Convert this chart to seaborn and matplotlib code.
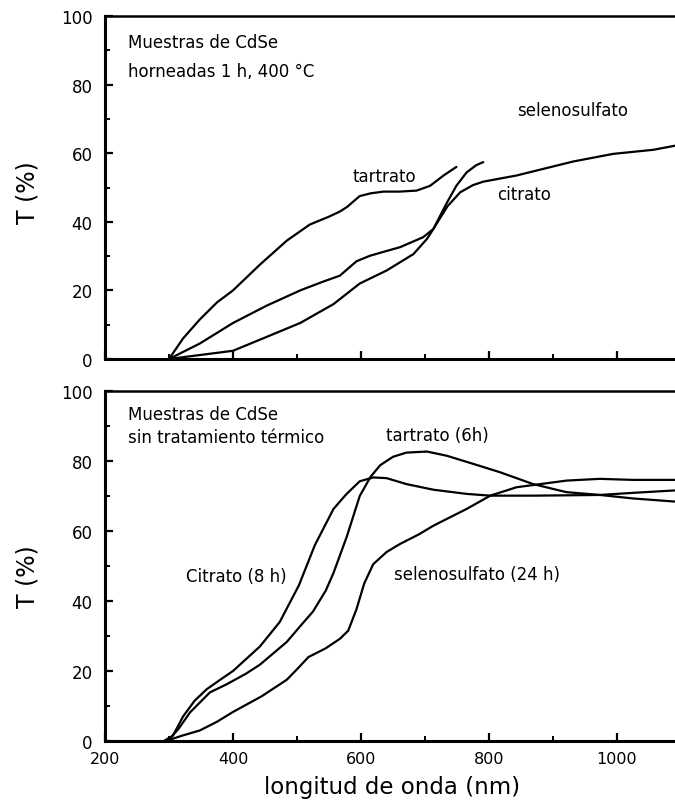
import matplotlib
matplotlib.use("Agg")
import matplotlib.pyplot as plt
import seaborn as sns
import pandas as pd
from matplotlib.ticker import FixedLocator, MultipleLocator

# ---------------- data ----------------
# Top panel: CdSe samples baked 1 h at 400 C
top_tartrato_nm = [300, 322, 348, 375, 400, 442, 484, 520, 550, 567, 578, 598, 615, 635, 660, 687, 708, 729, 749]
top_tartrato_T = [0, 6, 11.5, 16.5, 20, 27.5, 34.5, 39.2, 41.5, 43, 44.3, 47.5, 48.3, 48.8, 48.8, 49.1, 50.5, 53.5, 56]

top_selenosulfato_nm = [300, 348, 400, 452, 505, 540, 567, 593, 614, 640, 661, 697, 713, 735, 755, 775, 791,
                        843, 895, 932, 994, 1057, 1091]
top_selenosulfato_T = [0, 4.5, 10.5, 15.5, 20, 22.5, 24.3, 28.5, 30.1, 31.5, 32.6, 35.5, 37.9, 44.5, 48.6, 50.7,
                       51.7, 53.5, 55.9, 57.6, 59.8, 61.0, 62.2]

top_citrato_nm = [300, 350, 400, 452, 505, 557, 598, 640, 682, 703, 713, 734, 749, 765, 780, 791]
top_citrato_T = [0, 1.2, 2.4, 6.4, 10.5, 16, 22, 25.8, 30.6, 35, 37.9, 45.5, 50.5, 54.4, 56.5, 57.4]

# Bottom panel: CdSe samples without thermal treatment
bot_citrato_nm = [292, 306, 322, 340, 359, 380, 400, 442, 473, 503, 528, 557, 577, 598, 619, 640, 671, 713,
                  765, 802, 869, 925, 973, 1025, 1091]
bot_citrato_T = [0, 1.5, 7, 11.5, 14.8, 17.5, 20, 27, 34, 44.5, 56, 66.3, 70.5, 74.2, 75.3, 75.1, 73.4, 71.8,
                 70.6, 70.1, 70.1, 70.2, 70.3, 70.9, 71.6]

bot_tartrato_nm = [298, 315, 333, 364, 390, 420, 442, 484, 505, 525, 545, 557, 578, 598, 615, 630, 650, 671,
                   703, 734, 775, 817, 869, 921, 973, 1025, 1091]
bot_tartrato_T = [0, 3.5, 8.2, 13.9, 16.2, 19.2, 21.8, 28.3, 32.8, 37, 43, 48, 58.5, 70, 75.5, 78.8, 81.2, 82.4,
                  82.7, 81.5, 79.2, 76.8, 73.4, 71.1, 70.3, 69.3, 68.4]

bot_selenosulfato_nm = [295, 320, 348, 375, 400, 445, 484, 500, 518, 545, 567, 580, 593, 605, 619, 640, 661, 690,
                        713, 740, 765, 802, 843, 880, 921, 973, 1025, 1091]
bot_selenosulfato_T = [0, 1.5, 3, 5.5, 8.3, 12.8, 17.5, 20.5, 24, 26.5, 29.2, 31.5, 37.7, 45, 50.5, 54, 56.3, 59,
                       61.5, 64, 66.3, 70.1, 72.5, 73.4, 74.4, 74.9, 74.6, 74.6]

y_ticks = [0, 20, 40, 60, 80, 100]
x_ticks = [200, 400, 600, 800, 1000]

top_series = [("tartrato", top_tartrato_nm, top_tartrato_T),
              ("selenosulfato", top_selenosulfato_nm, top_selenosulfato_T),
              ("citrato", top_citrato_nm, top_citrato_T)]
bot_series = [("citrato", bot_citrato_nm, bot_citrato_T),
              ("tartrato", bot_tartrato_nm, bot_tartrato_T),
              ("selenosulfato", bot_selenosulfato_nm, bot_selenosulfato_T)]

# ---------------- style ----------------
sns.set_theme(style="white")
plt.rcParams.update({
    "font.family": ["DejaVu Sans"],
    "axes.edgecolor": "black",
    "xtick.color": "black",
    "ytick.color": "black",
    "text.color": "black",
    "axes.labelcolor": "black",
})

W, H = 675, 803
fig = plt.figure(figsize=(W / 100, H / 100), dpi=100)


def rect(left, top, right, bottom):
    return [left / W, 1 - bottom / H, (right - left) / W, (bottom - top) / H]


ax1 = fig.add_axes(rect(105, 17, 675, 360))
ax2 = fig.add_axes(rect(105, 392, 675, 742))


def draw(ax, series):
    frames = [pd.DataFrame({"nm": nm, "T": t, "serie": name}) for name, nm, t in series]
    df = pd.concat(frames, ignore_index=True)
    for name in df["serie"].unique():
        sub = df[df["serie"] == name]
        sns.lineplot(data=sub, x="nm", y="T", ax=ax, color="black", lw=1.6,
                     legend=False, estimator=None, sort=False)


draw(ax1, top_series)
draw(ax2, bot_series)

for ax in (ax1, ax2):
    ax.set_xlim(200, 1090.6)
    ax.set_ylim(0, 100)
    ax.spines["right"].set_visible(False)
    ax.spines["left"].set_linewidth(2.2)
    ax.spines["bottom"].set_linewidth(2.2)
    ax.spines["top"].set_linewidth(1.8)
    ax.xaxis.set_major_locator(FixedLocator(x_ticks))
    ax.xaxis.set_minor_locator(MultipleLocator(100))
    ax.yaxis.set_major_locator(FixedLocator(y_ticks))
    ax.yaxis.set_minor_locator(MultipleLocator(10))
    ax.tick_params(which="both", left=True, bottom=True, right=False, top=False)
    ax.tick_params(which="major", direction="in", length=6, width=1.6, labelsize=12)
    ax.tick_params(which="minor", direction="in", length=3.5, width=1.4)
    ax.tick_params(axis="y", which="major", pad=9)
    ax.tick_params(axis="x", which="major", pad=7, labelsize=11.5)
    ax.set_xlabel("")
    ax.set_ylabel("T (%)", fontsize=17, va="center")

ax1.tick_params(labelbottom=False)
ax1.yaxis.set_label_coords((28 - 105) / 570, (360 - 193) / 343)
ax2.yaxis.set_label_coords((28 - 105) / 570, (742 - 577) / 350)
ax2.set_xlabel("longitud de onda (nm)", fontsize=16.5, va="center")
ax2.xaxis.set_label_coords((392 - 105) / 570, (742 - 788) / 350)

fs = 12
ax1.text(236, 92.4, "Muestras de CdSe", fontsize=fs, ha="left", va="center")
ax1.text(236, 84.0, "horneadas 1 h, 400 °C", fontsize=fs, ha="left", va="center")
ax1.text(637, 53.4, "tartrato", fontsize=fs, ha="center", va="center")
ax1.text(855, 48.1, "citrato", fontsize=fs, ha="center", va="center")
ax1.text(931, 72.6, "selenosulfato", fontsize=fs, ha="center", va="center")

ax2.text(236, 93.4, "Muestras de CdSe", fontsize=fs, ha="left", va="center")
ax2.text(236, 86.9, "sin tratamiento térmico", fontsize=fs, ha="left", va="center")
ax2.text(719, 87.4, "tartrato (6h)", fontsize=fs, ha="center", va="center")
ax2.text(405, 47.1, "Citrato (8 h)", fontsize=fs, ha="center", va="center")
ax2.text(781, 47.7, "selenosulfato (24 h)", fontsize=fs, ha="center", va="center")

fig.savefig("out.png", dpi=100, facecolor="white")
